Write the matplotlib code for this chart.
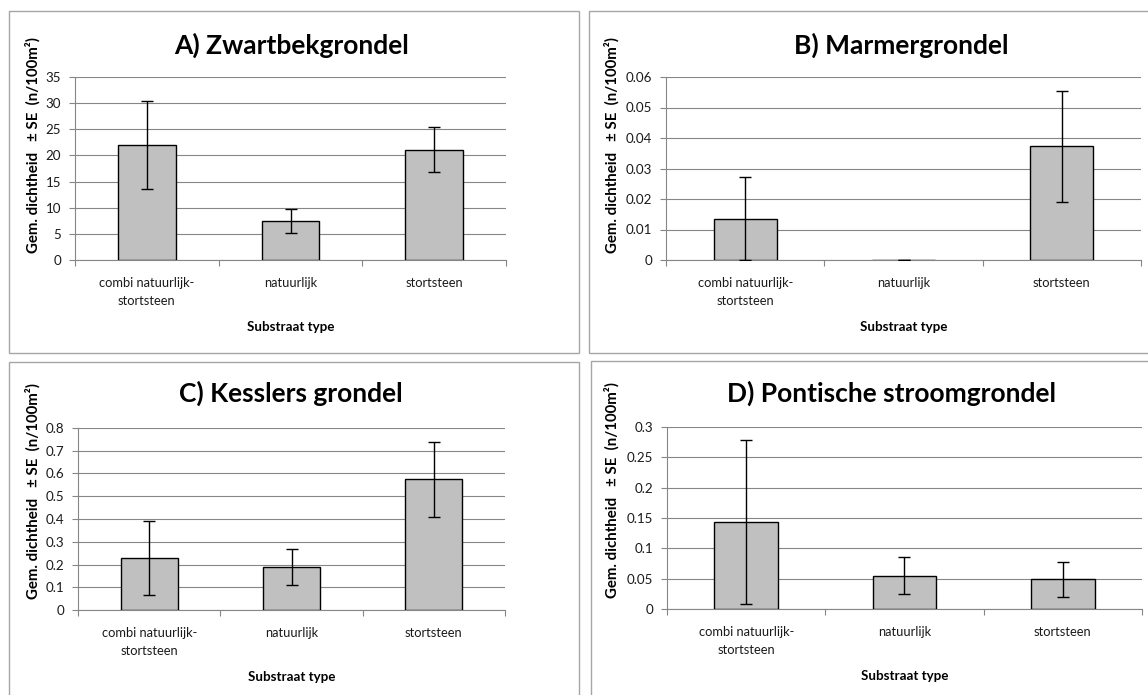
import matplotlib.pyplot as plt
import matplotlib.patches as patches
from matplotlib.ticker import FixedLocator, FuncFormatter

plt.rcParams['font.family'] = ['Lato', 'DejaVu Sans']

# data
categories = ["combi natuurlijk-\nstortsteen", "natuurlijk", "stortsteen"]
titles = ["A) Zwartbekgrondel", "B) Marmergrondel", "C) Kesslers grondel", "D) Pontische stroomgrondel"]

zwartbek_mean = [22.0, 7.5, 21.1]
zwartbek_se = [8.4, 2.3, 4.3]
marmer_mean = [0.0136, 0.0, 0.0373]
marmer_se = [0.0137, 0.0, 0.0182]
kessler_mean = [0.230, 0.189, 0.574]
kessler_se = [0.163, 0.081, 0.165]
pontisch_mean = [0.143, 0.055, 0.049]
pontisch_se = [0.135, 0.031, 0.029]

y_max = [35, 0.06, 0.8, 0.3]
y_step = [5, 0.01, 0.1, 0.05]

W, H = 1148, 695
fig = plt.figure(figsize=(W / 100, H / 100), dpi=100)


def box(x0, y0, x1, y1):
    # pixel box (top-left origin) -> figure fraction rect
    return [x0 / W, 1 - y1 / H, (x1 - x0) / W, (y1 - y0) / H]


# panel frames
for (x0, y0, x1, y1) in [(9, 11, 579, 353), (589, 11, 1160, 353),
                         (9, 362, 579, 710), (591, 361, 1160, 710)]:
    fig.patches.append(patches.Rectangle((x0 / W, 1 - y1 / H), (x1 - x0) / W, (y1 - y0) / H,
                                         transform=fig.transFigure, fill=False,
                                         edgecolor='#A6A6A6', linewidth=1.0))

axes_px = [(75, 77, 506, 260), (666, 77, 1141, 260), (78, 428, 505, 610), (667, 427, 1142, 609)]
title_px = [(292, 45), (901, 45), (291, 393), (892, 393)]
ylabel_px = [(33, 145), (612, 145), (33, 491), (612, 490)]
means = [zwartbek_mean, marmer_mean, kessler_mean, pontisch_mean]
ses = [zwartbek_se, marmer_se, kessler_se, pontisch_se]

grid_col = '#868686'
x = list(range(len(categories)))

for i in range(4):
    ax = fig.add_axes(box(*axes_px[i]))
    ax.bar(x, means[i], width=0.4, color='#C0C0C0', edgecolor='black', linewidth=1.0, zorder=3)
    ax.errorbar(x, means[i], yerr=ses[i], fmt='none', ecolor='black', elinewidth=1.0,
                capsize=4, capthick=1.0, zorder=4)
    ax.set_xlim(-0.5, 2.5)
    ax.set_ylim(0, y_max[i])
    n = int(round(y_max[i] / y_step[i]))
    ax.yaxis.set_major_locator(FixedLocator([k * y_step[i] for k in range(n + 1)]))
    ax.yaxis.set_major_formatter(FuncFormatter(lambda v, p: f"{round(v, 4):g}"))
    ax.yaxis.grid(True, color=grid_col, linewidth=0.8, zorder=0)
    ax.set_axisbelow(True)

    ax.xaxis.set_major_locator(FixedLocator([-0.5, 0.5, 1.5, 2.5]))
    ax.xaxis.set_major_formatter(FuncFormatter(lambda v, p: ""))
    ax.xaxis.set_minor_locator(FixedLocator(x))
    ax.set_xticklabels(categories, minor=True)
    ax.tick_params(axis='x', which='major', direction='out', length=4, color=grid_col, width=0.8)
    ax.tick_params(axis='x', which='minor', length=0, pad=12, labelsize=9.3, labelcolor='#1a1a1a')
    ax.tick_params(axis='y', direction='out', length=4, color=grid_col, width=0.8,
                   pad=6, labelsize=9.6, labelcolor='#1a1a1a')
    for lab in ax.get_xticklabels(minor=True):
        lab.set_linespacing(1.6)

    for s in ['top', 'right']:
        ax.spines[s].set_visible(False)
    for s in ['left', 'bottom']:
        ax.spines[s].set_color(grid_col)
        ax.spines[s].set_linewidth(0.8)

    ax.set_xlabel("Substraat type", fontsize=9.6, fontweight='bold', labelpad=10)

    tx, ty = title_px[i]
    fig.text(tx / W, 1 - ty / H, titles[i], fontsize=19, fontweight='bold',
             ha='center', va='center')
    lx, ly = ylabel_px[i]
    fig.text(lx / W, 1 - ly / H, "Gem. dichtheid   \u00b1 SE  (n/100m\u00b2)", fontsize=10.8,
             fontweight='bold', rotation=90, ha='center', va='center')

fig.savefig("out.png", dpi=100)
